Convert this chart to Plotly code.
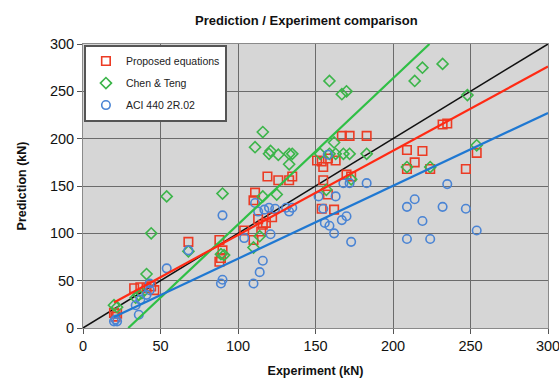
import plotly.graph_objects as go

# ---- data ----
prop_x = [20, 22, 21, 33, 37, 41, 44, 46, 68, 88, 90, 89, 88, 104, 110, 115, 116, 113, 118, 122,
          110, 111, 119, 126, 133, 135, 151, 154, 158, 163, 155, 155, 170, 173, 158, 162, 154,
          167, 172, 183, 209, 209, 214, 219, 224, 232, 235, 247, 254]
prop_y = [16, 15, 12, 42, 43, 42, 44, 40, 91, 93, 82, 74, 70, 103, 93, 102, 109, 115, 111, 117,
          135, 143, 160, 156, 156, 160, 177, 176, 179, 177, 170, 156, 162, 160, 141, 125, 126,
          203, 203, 203, 188, 168, 175, 187, 168, 215, 216, 168, 185]

chen_x = [20, 22, 34, 36, 38, 41, 44, 54, 68, 90, 89, 91, 110, 114, 116, 125, 111, 116, 120, 121,
          126, 133, 135, 133, 153, 159, 163, 168, 172, 183, 157, 162, 173, 159, 167, 170, 209,
          214, 219, 224, 232, 248, 254]
chen_y = [24, 22, 32, 35, 37, 57, 100, 139, 81, 142, 78, 77, 85, 97, 139, 141, 191, 207, 184, 187,
          183, 184, 184, 173, 184, 184, 184, 184, 184, 184, 146, 196, 157, 261, 247, 250, 170,
          261, 275, 170, 279, 246, 193]

aci_x = [20, 22, 21, 36, 34, 37, 41, 43, 43, 54, 68, 89, 90, 90, 104, 110, 114, 116, 121, 111,
         113, 117, 120, 124, 131, 133, 135, 152, 155, 156, 159, 158, 162, 163, 167, 168, 170,
         172, 173, 183, 209, 209, 214, 219, 224, 232, 235, 247, 254]
aci_y = [7, 7, 9, 14, 24, 30, 35, 40, 47, 63, 82, 47, 51, 119, 95, 47, 59, 71, 99, 132,
         123, 125, 127, 126, 127, 123, 127, 139, 126, 111, 108, 183, 100, 139, 114, 153, 118,
         153, 91, 153, 128, 94, 136, 113, 94, 128, 152, 126, 103]

# trend lines: (slope, intercept, x_start, x_end)
prop_fit = (0.89, 9.2, 20, 300)
chen_fit = (1.544, -45.1, 29.2, 223.5)
aci_fit = (0.77, -3.8, 20, 300)
ideal = (1.0, 0.0, 0, 300)

x_ticks = [0, 50, 100, 150, 200, 250, 300]
y_ticks = [0, 50, 100, 150, 200, 250, 300]

RED = "#ec3b24"
GREEN = "#3cb54a"
BLUE = "#4a84d4"
FONT = "Liberation Sans, Arial"

fig = go.Figure()


def fit_line(p, color, width=2.2):
    m, b, x0, x1 = p
    return go.Scatter(x=[x0, x1], y=[m * x0 + b, m * x1 + b], mode="lines",
                      line=dict(color=color, width=width), showlegend=False,
                      hoverinfo="skip", cliponaxis=True)


fig.add_trace(fit_line(ideal, "#111111", 1.5))
fig.add_trace(go.Scatter(x=prop_x, y=prop_y, mode="markers", name="Proposed equations",
                         legendgroup="a",
                         marker=dict(symbol="square-open", size=8.5, color=RED,
                                     line=dict(width=1.6))))
fig.add_trace(go.Scatter(x=chen_x, y=chen_y, mode="markers", name="Chen & Teng",
                         legendgroup="b",
                         marker=dict(symbol="diamond-open", size=8.5, color=GREEN,
                                     line=dict(width=1.6))))
fig.add_trace(go.Scatter(x=aci_x, y=aci_y, mode="markers", name="ACI 440 2R.02",
                         legendgroup="c",
                         marker=dict(symbol="circle-open", size=8.5, color=BLUE,
                                     line=dict(width=1.6))))
fig.add_trace(fit_line(chen_fit, "#2fbf45"))
fig.add_trace(fit_line(prop_fit, "#ff2a14"))
fig.add_trace(fit_line(aci_fit, "#1f78d2"))

axis_common = dict(showgrid=True, gridcolor="#6b6b6b", gridwidth=1, zeroline=False,
                   showline=True, linecolor="#8a8a8a", linewidth=1,
                   ticks="outside", ticklen=5, tickcolor="#555555",
                   tickfont=dict(family=FONT, size=14.5, color="#111111"),
                   mirror=True, automargin=False, ticklabeloverflow="allow")

fig.update_xaxes(range=[0, 300], tickvals=x_ticks, **axis_common,
                 title=dict(text="<b>Experiment (kN)</b>", standoff=14,
                            font=dict(family=FONT, size=12.5, color="#111111")))
fig.update_yaxes(range=[0, 300], tickvals=y_ticks, **axis_common,
                 title=dict(text="<b>Prediction (kN)</b>", standoff=20,
                            font=dict(family=FONT, size=12.5, color="#111111")))

fig.update_layout(
    width=559, height=378,
    margin=dict(l=83, r=11, t=44, b=50),
    paper_bgcolor="white",
    plot_bgcolor="#d6d6d6",
    title=dict(text="<b>Prediction / Experiment comparison</b>", x=0.548, xanchor="center",
               y=0.947, yanchor="middle",
               font=dict(family=FONT, size=13, color="#111111")),
    showlegend=True,
    legend=dict(x=0.002, y=0.998, xanchor="left", yanchor="top", bgcolor="white",
                bordercolor="#555555", borderwidth=2,
                font=dict(family=FONT, size=10.5, color="#222222"),
                tracegroupgap=3, itemwidth=30, entrywidth=146, entrywidthmode="pixels"),
)

fig.write_html("out.html", config={"displayModeBar": False},
               post_script="document.body.style.margin='0px';")
